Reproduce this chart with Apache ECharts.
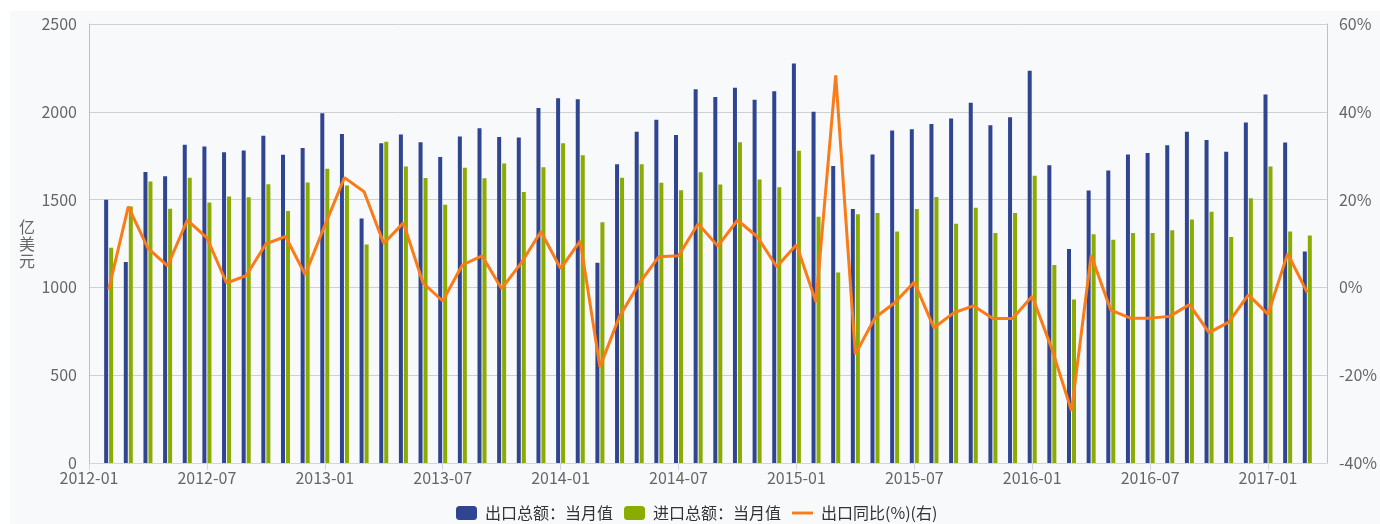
<!DOCTYPE html>
<html>
<head>
<meta charset="utf-8">
<script src="https://cdn.jsdelivr.net/npm/echarts@6/dist/echarts.min.js"></script>
<style>
  html, body { margin: 0; padding: 0; background: #ffffff; }
  #wrap { position: relative; width: 1380px; height: 524px; background: #ffffff; overflow: hidden; }
  #panel { position: absolute; left: 10px; top: 11px; right: 0; bottom: 0; background: #f8f9fb; }
  #chart { position: absolute; left: 0; top: 0; width: 1380px; height: 524px; }
</style>
</head>
<body>
<div id="wrap"><div id="panel"></div><div id="chart"></div></div>
<script>
// ---- data (monthly, 2012-01 .. 2017-02) ----
const months = [
  '2012-01','2012-02','2012-03','2012-04','2012-05','2012-06','2012-07','2012-08','2012-09','2012-10','2012-11','2012-12',
  '2013-01','2013-02','2013-03','2013-04','2013-05','2013-06','2013-07','2013-08','2013-09','2013-10','2013-11','2013-12',
  '2014-01','2014-02','2014-03','2014-04','2014-05','2014-06','2014-07','2014-08','2014-09','2014-10','2014-11','2014-12',
  '2015-01','2015-02','2015-03','2015-04','2015-05','2015-06','2015-07','2015-08','2015-09','2015-10','2015-11','2015-12',
  '2016-01','2016-02','2016-03','2016-04','2016-05','2016-06','2016-07','2016-08','2016-09','2016-10','2016-11','2016-12',
  '2017-01','2017-02'
];
const exportsValue = [
  1499,1145,1657,1633,1812,1802,1769,1779,1864,1755,1794,1992,
  1873,1393,1821,1871,1827,1743,1860,1907,1857,1854,2022,2077,
  2071,1141,1701,1887,1955,1868,2129,2084,2137,2069,2117,2275,
  2000,1691,1446,1757,1893,1901,1931,1962,2052,1924,1969,2234,
  1696,1219,1552,1666,1757,1765,1810,1886,1840,1772,1939,2098,
  1825,1204
];
const importsValue = [
  1226,1460,1603,1448,1625,1484,1517,1513,1587,1435,1597,1676,
  1581,1245,1830,1689,1623,1471,1682,1622,1705,1543,1684,1821,
  1753,1371,1624,1702,1596,1553,1656,1586,1827,1615,1571,1778,
  1402,1085,1416,1424,1318,1446,1515,1363,1454,1310,1424,1636,
  1128,931,1302,1272,1310,1310,1325,1386,1431,1287,1507,1689,
  1318,1295
];
const exportsYoY = [
  -0.5,18.4,8.9,4.9,15.3,11.3,1.0,2.7,9.9,11.6,2.9,14.1,
  25.0,21.8,10.0,14.7,1.0,-3.1,5.1,7.2,-0.3,5.6,12.7,4.3,
  10.6,-18.1,-6.6,0.9,7.0,7.2,14.5,9.4,15.3,11.6,4.7,9.7,
  -3.3,48.3,-15.2,-6.9,-3.5,1.2,-9.2,-5.8,-4.2,-7.1,-7.1,-2.0,
  -14.0,-28.1,7.3,-5.2,-7.0,-7.0,-6.6,-3.9,-10.3,-7.9,-1.7,-6.1,
  7.7,-1.2
];
const tickLabels = ['2012-01','2012-07','2013-01','2013-07','2014-01','2014-07','2015-01','2015-07','2016-01','2016-07','2017-01'];
const leftTicks = [0, 500, 1000, 1500, 2000, 2500];
const rightTicks = [-40, -20, 0, 20, 40, 60];
const seriesNames = ['出口总额：当月值', '进口总额：当月值', '出口同比(%)(右)'];
const yAxisName = '亿美元';

// Axis slots are month starts (2012-01 .. 2017-04); each monthly value is
// plotted at the end of its month, i.e. on the slot of the following month.
const axisSlots = [];
(function () {
  let y = 2012, m = 1;
  for (let i = 0; i < months.length + 2; i++) {
    axisSlots.push(y + '-' + (m < 10 ? '0' + m : '' + m));
    m++; if (m > 12) { m = 1; y++; }
  }
})();
function shift(arr) { return [null].concat(arr).concat([null]); }

const FONT = '"Noto Sans CJK SC", "Noto Sans", sans-serif';
const showTick = function (idx, val) { return tickLabels.indexOf(val) >= 0; };

const chart = echarts.init(document.getElementById('chart'), null, { renderer: 'canvas' });
chart.setOption({
  backgroundColor: 'transparent',
  animation: false,
  textStyle: { fontFamily: FONT },
  grid: { left: 89, right: 52, top: 24, bottom: 61 },
  legend: {
    left: 451, top: 500,
    itemWidth: 21, itemHeight: 14, itemGap: 11,
    symbolKeepAspect: true,
    textStyle: { fontFamily: FONT, fontSize: 16, lineHeight: 16, color: '#333333', padding: [0, 0, 0, 3] },
    data: [
      { name: seriesNames[0], icon: 'roundRect' },
      { name: seriesNames[1], icon: 'roundRect' },
      { name: seriesNames[2], icon: 'path://M0,0 H22 V3 H0 Z', itemStyle: { color: '#fa7b17' } }
    ]
  },
  xAxis: {
    type: 'category',
    data: axisSlots,
    boundaryGap: false,
    axisLine: { show: true, lineStyle: { color: '#ccd6eb', width: 1 } },
    axisTick: { show: true, interval: showTick, length: 7, lineStyle: { color: '#ccd6eb' } },
    axisLabel: { interval: showTick, margin: 7, fontFamily: FONT, fontSize: 16, color: '#666666' },
    splitLine: { show: false }
  },
  yAxis: [
    {
      type: 'value', min: leftTicks[0], max: leftTicks[leftTicks.length - 1], interval: 500,
      name: yAxisName.split('').join('\n'),
      nameLocation: 'middle', nameRotate: 0, nameGap: 62,
      nameTextStyle: { fontFamily: FONT, fontSize: 16, color: '#666666', lineHeight: 17, align: 'center' },
      axisLine: { show: true, lineStyle: { color: '#c0c0c0' } },
      axisTick: { show: false },
      axisLabel: { margin: 12, fontFamily: FONT, fontSize: 16, color: '#666666', formatter: function (v) { return String(v); } },
      splitLine: { show: true, lineStyle: { color: '#d0d0d0', width: 1 } }
    },
    {
      type: 'value', min: rightTicks[0], max: rightTicks[rightTicks.length - 1], interval: 20,
      position: 'right',
      axisLine: { show: true, lineStyle: { color: '#c0c0c0' } },
      axisTick: { show: false },
      axisLabel: { margin: 12, fontFamily: FONT, fontSize: 16, color: '#666666', formatter: '{value}%' },
      splitLine: { show: false }
    }
  ],
  series: [
    {
      name: seriesNames[0], type: 'bar', yAxisIndex: 0,
      data: shift(exportsValue), barWidth: 4, barGap: '25%',
      itemStyle: { color: '#2f4591' }
    },
    {
      name: seriesNames[1], type: 'bar', yAxisIndex: 0,
      data: shift(importsValue), barWidth: 4, barGap: '25%',
      itemStyle: { color: '#8aab00' }
    },
    {
      name: seriesNames[2], type: 'line', yAxisIndex: 1,
      data: shift(exportsYoY), symbol: 'none', z: 5,
      lineStyle: { color: '#fa7b17', width: 3 },
      itemStyle: { color: '#fa7b17' }
    }
  ]
});
</script>
</body>
</html>
